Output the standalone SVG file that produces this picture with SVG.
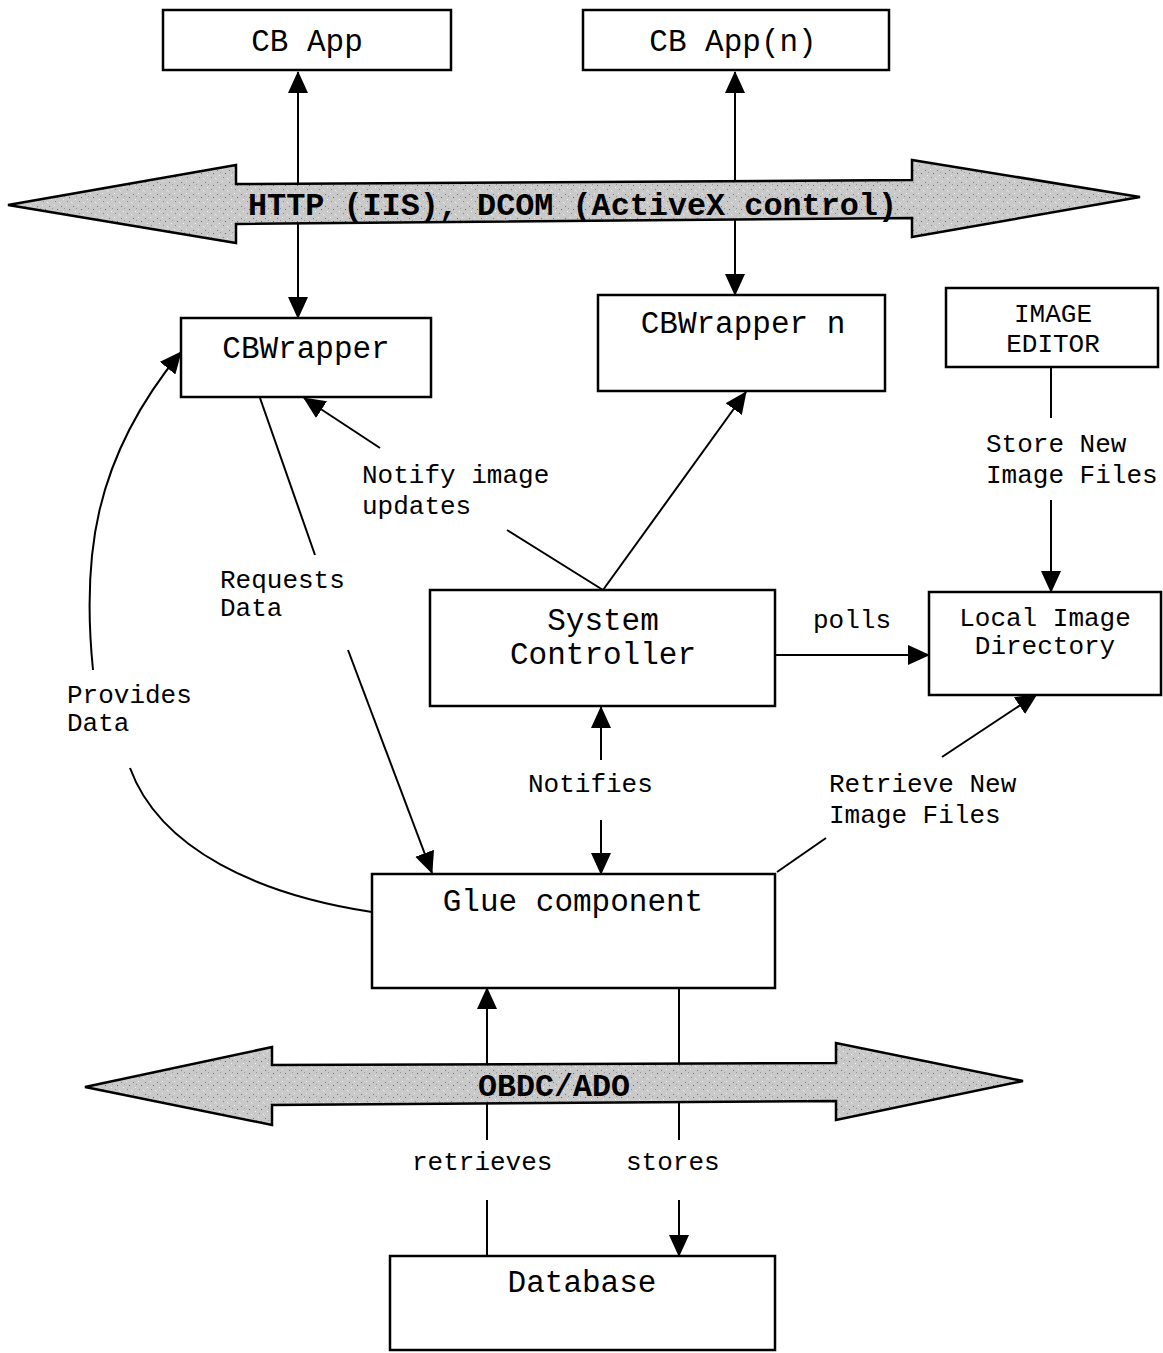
<svg xmlns="http://www.w3.org/2000/svg" width="1163" height="1353" viewBox="0 0 1163 1353">
<style>
.box{fill:#fff;stroke:#000;stroke-width:2.5}
.ln{fill:none;stroke:#000;stroke-width:2}
.nl{font-family:"Liberation Mono","Courier New",monospace;font-size:31px;fill:#000}
.el{font-family:"Liberation Mono","Courier New",monospace;font-size:26px;fill:#000}
.bus{fill:url(#stip);stroke:#000;stroke-width:2.5;stroke-linejoin:miter}
.bl{font-family:"Liberation Mono","Courier New",monospace;font-size:32px;font-weight:bold;fill:#000}
</style>
<defs>
<marker id="ah" markerUnits="userSpaceOnUse" markerWidth="22" markerHeight="20" refX="21" refY="10" orient="auto-start-reverse">
<path d="M0,0 L22,10 L0,20 z" fill="#000"/>
</marker>
<pattern id="stip" patternUnits="userSpaceOnUse" width="12" height="12">
<rect width="12" height="12" fill="#c9c9c9"/>
<rect x="1" y="2" width="1" height="1" fill="#777"/>
<rect x="6" y="1" width="1" height="1" fill="#eee"/>
<rect x="9" y="5" width="1" height="1" fill="#666"/>
<rect x="3" y="7" width="1" height="1" fill="#f2f2f2"/>
<rect x="7" y="9" width="1" height="1" fill="#888"/>
<rect x="11" y="10" width="1" height="1" fill="#eee"/>
<rect x="4" y="4" width="1" height="1" fill="#999"/>
<rect x="0" y="11" width="1" height="1" fill="#ddd"/>
</pattern>
</defs>

<g id="connectors">
<!-- CB App <-> CBWrapper -->
<line class="ln" x1="298" y1="72" x2="298" y2="318" marker-start="url(#ah)" marker-end="url(#ah)"/>
<!-- CB App(n) <-> CBWrapper n -->
<line class="ln" x1="735" y1="72" x2="735" y2="295" marker-start="url(#ah)" marker-end="url(#ah)"/>
<!-- Requests Data -->
<line class="ln" x1="260" y1="398" x2="315" y2="555"/>
<line class="ln" x1="348" y1="650" x2="432" y2="873" marker-end="url(#ah)"/>
<!-- Notify image updates -->
<line class="ln" x1="603" y1="590" x2="507" y2="530"/>
<line class="ln" x1="380" y1="448" x2="304" y2="398" marker-end="url(#ah)"/>
<!-- System Controller -> CBWrapper n -->
<line class="ln" x1="603" y1="590" x2="746" y2="392" marker-end="url(#ah)"/>
<!-- Provides Data -->
<path class="ln" d="M93,670 C82,560 92,460 181,352" marker-end="url(#ah)"/>
<path class="ln" d="M130,768 C160,850 260,895 372,912"/>
<!-- polls -->
<line class="ln" x1="775" y1="655" x2="929" y2="655" marker-end="url(#ah)"/>
<!-- Notifies -->
<line class="ln" x1="601" y1="760" x2="601" y2="707" marker-end="url(#ah)"/>
<line class="ln" x1="601" y1="820" x2="601" y2="874" marker-end="url(#ah)"/>
<!-- Store New Image Files -->
<line class="ln" x1="1051" y1="367" x2="1051" y2="418"/>
<line class="ln" x1="1051" y1="500" x2="1051" y2="592" marker-end="url(#ah)"/>
<!-- Retrieve New Image Files -->
<line class="ln" x1="777" y1="872" x2="826" y2="838"/>
<line class="ln" x1="942" y1="757" x2="1037" y2="694" marker-end="url(#ah)"/>
<!-- retrieves -->
<line class="ln" x1="487" y1="1256" x2="487" y2="1200"/>
<line class="ln" x1="487" y1="1140" x2="487" y2="988" marker-end="url(#ah)"/>
<!-- stores -->
<line class="ln" x1="679" y1="988" x2="679" y2="1140"/>
<line class="ln" x1="679" y1="1200" x2="679" y2="1256" marker-end="url(#ah)"/>
</g>

<g id="bus-http">
<path class="bus" d="M8,205 L236,165 L236,184 L912,180 L912,160 L1140,197 L912,237 L912,218 L236,224 L236,243 Z"/>
<text class="bl" x="248" y="215" textLength="649" lengthAdjust="spacingAndGlyphs">HTTP (IIS), DCOM (ActiveX control)</text>
</g>

<g id="bus-odbc">
<path class="bus" d="M85,1087 L272,1047 L272,1065 L836,1063 L836,1043 L1023,1081 L836,1120 L836,1101 L272,1105 L272,1125 Z"/>
<text class="bl" x="478" y="1096" textLength="152" lengthAdjust="spacingAndGlyphs">OBDC/ADO</text>
</g>

<g id="cb-app">
<rect class="box" x="163" y="10" width="288" height="60"/>
<text class="nl" x="307" y="51" text-anchor="middle">CB App</text>
</g>
<g id="cb-app-n">
<rect class="box" x="583" y="10" width="306" height="60"/>
<text class="nl" x="733" y="51" text-anchor="middle">CB App(n)</text>
</g>
<g id="cbwrapper">
<rect class="box" x="181" y="318" width="250" height="79"/>
<text class="nl" x="306" y="358" text-anchor="middle">CBWrapper</text>
</g>
<g id="cbwrapper-n">
<rect class="box" x="598" y="295" width="287" height="96"/>
<text class="nl" x="743" y="333" text-anchor="middle">CBWrapper n</text>
</g>
<g id="image-editor">
<rect class="box" x="946" y="288" width="212" height="79"/>
<text class="el" x="1053" y="322" text-anchor="middle">IMAGE</text>
<text class="el" x="1053" y="352" text-anchor="middle">EDITOR</text>
</g>
<g id="system-controller">
<rect class="box" x="430" y="590" width="345" height="116"/>
<text class="nl" x="603" y="630" text-anchor="middle">System</text>
<text class="nl" x="603" y="664" text-anchor="middle">Controller</text>
</g>
<g id="local-image-directory">
<rect class="box" x="929" y="592" width="232" height="103"/>
<text class="el" x="1045" y="626" text-anchor="middle">Local Image</text>
<text class="el" x="1045" y="654" text-anchor="middle">Directory</text>
</g>
<g id="glue-component">
<rect class="box" x="372" y="874" width="403" height="114"/>
<text class="nl" x="573" y="911" text-anchor="middle">Glue component</text>
</g>
<g id="database">
<rect class="box" x="390" y="1256" width="385" height="94"/>
<text class="nl" x="582" y="1292" text-anchor="middle">Database</text>
</g>

<g id="labels">
<text class="el" x="362" y="483">Notify image</text>
<text class="el" x="362" y="514">updates</text>
<text class="el" x="220" y="588">Requests</text>
<text class="el" x="220" y="616">Data</text>
<text class="el" x="67" y="703">Provides</text>
<text class="el" x="67" y="731">Data</text>
<text class="el" x="986" y="452">Store New</text>
<text class="el" x="986" y="483">Image Files</text>
<text class="el" x="813" y="628">polls</text>
<text class="el" x="528" y="792">Notifies</text>
<text class="el" x="829" y="792">Retrieve New</text>
<text class="el" x="829" y="823">Image Files</text>
<text class="el" x="412" y="1170">retrieves</text>
<text class="el" x="626" y="1170">stores</text>
</g>
</svg>
